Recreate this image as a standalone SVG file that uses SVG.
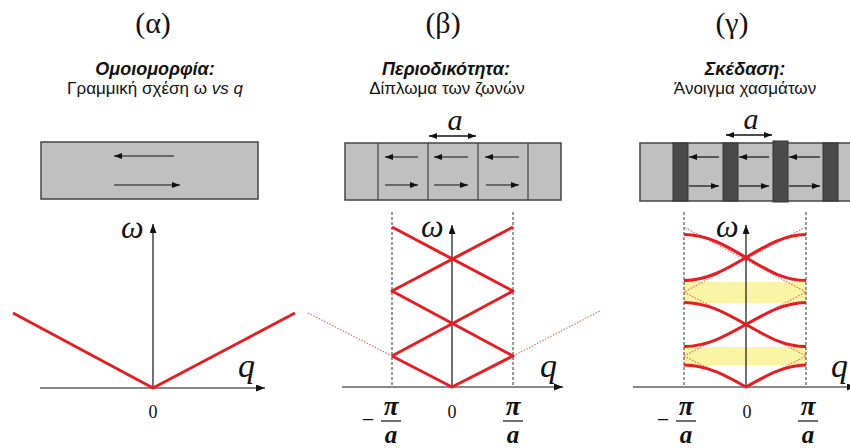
<svg xmlns="http://www.w3.org/2000/svg" width="850" height="448" viewBox="0 0 850 448">
<style>
.par{font-family:"Liberation Serif",serif;font-size:30px;text-anchor:middle;fill:#111}
.ttl{font-family:"Liberation Sans",Arial,sans-serif;font-size:18px;font-weight:bold;font-style:italic;text-anchor:middle;fill:#111}
.sub{font-family:"Liberation Sans",Arial,sans-serif;font-size:17px;text-anchor:middle;fill:#111}
.box{fill:#c0c0c0;stroke:#444;stroke-width:1.5}
.bar{fill:#4a4a4a;stroke:#333;stroke-width:1}
.div{stroke:#444;stroke-width:1.2}
.arr{stroke:#111;stroke-width:1.2;fill:none;marker-end:url(#sa)}
.dbl{stroke:#111;stroke-width:1.4;fill:none;marker-start:url(#sa);marker-end:url(#sa)}
.ax{stroke:#111;stroke-width:1.2;fill:none;marker-end:url(#ah)}
.dash{stroke:#333;stroke-width:1;stroke-dasharray:3,2;fill:none}
.red{stroke:#e31e24;stroke-width:3;fill:none;stroke-linejoin:round}
.dot{stroke:#e86a6a;stroke-width:1.2;stroke-dasharray:1.5,1.5;fill:none}
.gap{fill:#f9f5a4}
.w{font-family:"Liberation Serif",serif;font-style:italic;font-size:32px;fill:#111}
.q{font-family:"Liberation Serif",serif;font-style:italic;font-size:34px;fill:#111}
.lat{font-family:"Liberation Serif",serif;font-style:italic;font-size:30px;fill:#111;text-anchor:middle}
.zero{font-family:"Liberation Serif",serif;font-size:18px;text-anchor:middle;fill:#111}
.pi{font-family:"Liberation Serif",serif;font-style:italic;font-weight:bold;font-size:27px;text-anchor:middle;fill:#111}
.aa{font-family:"Liberation Serif",serif;font-style:italic;font-weight:bold;font-size:25px;text-anchor:middle;fill:#111}
.mn{font-family:"Liberation Serif",serif;font-size:22px;text-anchor:middle;fill:#111}
.fb{stroke:#111;stroke-width:1.2}
</style>
<defs>
<marker id="ah" markerUnits="userSpaceOnUse" markerWidth="10" markerHeight="8" refX="9" refY="3.5" orient="auto"><path d="M0,0 L9,3.5 L0,7 z" fill="#111"/></marker>
<marker id="sa" markerUnits="userSpaceOnUse" markerWidth="9" markerHeight="7" refX="8" refY="3" orient="auto-start-reverse"><path d="M0,0 L8,3 L0,6 z" fill="#111"/></marker>
</defs>

<g id="panel-a">
<text class="par" x="153" y="33">(α)</text>
<text class="ttl" x="155" y="75">Ομοιομορφία:</text>
<text class="sub" x="155" y="94">Γραμμική σχέση ω <tspan font-style="italic">vs q</tspan></text>
<g id="chain-a">
<rect class="box" x="41" y="142" width="217" height="57"/>
<path class="arr" d="M174,156 H114"/>
<path class="arr" d="M114,185 H180"/>
</g>
<g id="plot-a">
<path class="ax" d="M153,388 V224"/>
<path class="ax" d="M40,388 H265"/>
<path class="red" d="M13,313 L153,388 L295,313"/>
<text class="w" x="121" y="238">ω</text>
<text class="q" x="238" y="377">q</text>
<text class="zero" x="153" y="418">0</text>
</g>
</g>

<g id="panel-b">
<text class="par" x="443" y="33">(β)</text>
<text class="ttl" x="446" y="75">Περιοδικότητα:</text>
<text class="sub" x="447" y="94">Δίπλωμα των ζωνών</text>
<g id="chain-b">
<rect class="box" x="345" y="143" width="216" height="57"/>
<path class="div" d="M378,143 V200 M428,143 V200 M478,143 V200 M528,143 V200"/>
<path class="arr" d="M418,157 H385"/>
<path class="arr" d="M468,157 H434"/>
<path class="arr" d="M519,157 H485"/>
<path class="arr" d="M385,185 H418"/>
<path class="arr" d="M434,185 H468"/>
<path class="arr" d="M486,185 H519"/>
<path class="dbl" d="M429,136 H476"/>
<text class="lat" x="455" y="130">a</text>
</g>
<g id="plot-b">
<path class="dash" d="M392,212 V387 M513,212 V387"/>
<path class="dot" d="M392,356 L308,313 M513,356 L600,311"/>
<path class="ax" d="M452,387 V225"/>
<path class="ax" d="M342,387 H563"/>
<path class="red" d="M392,356 L452,387 L513,356 L392,291 L513,227"/>
<path class="red" d="M392,356 L513,291 L392,227"/>
<text class="w" x="421" y="237">ω</text>
<text class="q" x="540" y="377">q</text>
<text class="zero" x="452" y="418">0</text>
<text class="mn" x="368" y="427">−</text>
<text class="pi" x="391" y="415">π</text>
<path class="fb" d="M381,421 H401"/>
<text class="aa" x="391" y="443">a</text>
<text class="pi" x="513" y="415">π</text>
<path class="fb" d="M503,421 H523"/>
<text class="aa" x="513" y="443">a</text>
</g>
</g>

<g id="panel-c">
<text class="par" x="732" y="33">(γ)</text>
<text class="ttl" x="745" y="75">Σκέδαση:</text>
<text class="sub" x="745" y="94">Άνοιγμα χασμάτων</text>
<g id="chain-c">
<rect class="box" x="640" y="143" width="214" height="58"/>
<rect class="bar" x="673" y="143" width="15" height="58"/>
<rect class="bar" x="723" y="143" width="15" height="58"/>
<rect class="bar" x="773" y="141" width="15" height="61"/>
<rect class="bar" x="823" y="143" width="15" height="58"/>
<path class="arr" d="M719,157 H689"/>
<path class="arr" d="M769,157 H739"/>
<path class="arr" d="M820,157 H789"/>
<path class="arr" d="M689,186 H719"/>
<path class="arr" d="M739,186 H769"/>
<path class="arr" d="M789,186 H820"/>
<path class="dbl" d="M726,135 H772"/>
<text class="lat" x="751" y="129">a</text>
</g>
<g id="plot-c">
<rect class="gap" x="684" y="347" width="122" height="18"/>
<rect class="gap" x="684" y="282" width="122" height="21"/>
<path class="dash" d="M684,212 V387 M806,212 V387"/>
<path class="dot" d="M684,356 L746,387 L806,356 L684,292 L806,227 M684,356 L806,292 L684,227"/>
<path class="ax" d="M746,387 V225"/>
<path class="ax" d="M633,387 H856"/>
<path class="red" d="M684,365 C706.9,365 725.7,375.5 746,387 C766.3,375.5 785.1,365 806,365"/>
<path class="red" d="M684,346.5 C706.9,346.5 725.7,336 746,324.5 C766.3,313 785.1,302.5 806,302.5"/>
<path class="red" d="M806,346.5 C783.1,346.5 766.3,336 746,324.5 C725.7,313 706.9,302.5 684,302.5"/>
<path class="red" d="M684,280.5 C706.9,280.5 725.7,269.5 746,257.5 C766.3,245.5 785.1,234.5 806,234.5"/>
<path class="red" d="M806,280.5 C783.1,280.5 766.3,269.5 746,257.5 C725.7,245.5 706.9,234.5 684,234.5"/>
<text class="w" x="716" y="237">ω</text>
<text class="q" x="831" y="377">q</text>
<text class="zero" x="747" y="418">0</text>
<text class="mn" x="663" y="427">−</text>
<text class="pi" x="686" y="415">π</text>
<path class="fb" d="M676,421 H696"/>
<text class="aa" x="686" y="443">a</text>
<text class="pi" x="808" y="415">π</text>
<path class="fb" d="M798,421 H818"/>
<text class="aa" x="808" y="443">a</text>
</g>
</g>
</svg>
